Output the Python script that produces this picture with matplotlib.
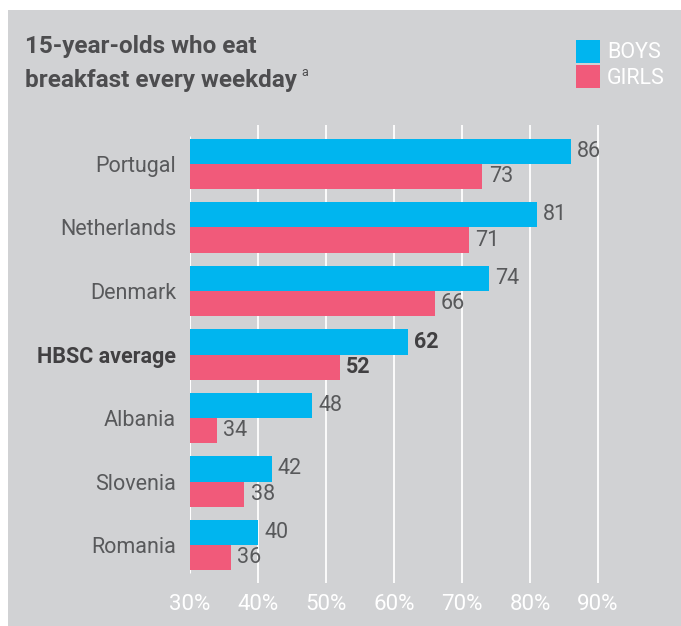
import matplotlib
matplotlib.use("Agg")
import matplotlib.pyplot as plt
from matplotlib import font_manager
from matplotlib.patches import Rectangle

# data
countries = ["Portugal", "Netherlands", "Denmark", "HBSC average", "Albania", "Slovenia", "Romania"]
boys = [86, 81, 74, 62, 48, 42, 40]
girls = [73, 71, 66, 52, 34, 38, 36]
ticks = [30, 40, 50, 60, 70, 80, 90]
tick_labels = ["30%", "40%", "50%", "60%", "70%", "80%", "90%"]
highlight = "HBSC average"

installed = {f.name for f in font_manager.fontManager.ttflist}
font = next(f for f in ["Liberation Sans Narrow", "Roboto", "Open Sans", "DejaVu Sans"] if f in installed)
narrow = font == "Liberation Sans Narrow"
plt.rcParams["font.family"] = [font, "DejaVu Sans"]

BG = "#d1d2d4"
BLUE = "#00b5ef"
PINK = "#f15a7a"
TXT = "#58595b"
DARK = "#414042"

fs = 16.5 if narrow else 15.5

fig = plt.figure(figsize=(6.81, 6.26), dpi=100)
fig.patch.set_facecolor("white")
fig.patches.append(Rectangle((8 / 681, 0), 1, 616 / 626, transform=fig.transFigure,
                             facecolor=BG, edgecolor="none", zorder=-5))

ax = fig.add_axes([190 / 681, 1 - 583 / 626, 476 / 681, 458 / 626])
ax.set_facecolor("none")

y = list(range(len(countries)))
h = 0.4
ax.barh([i - h / 2 for i in y], [b - 30 for b in boys], left=30, height=h, color=BLUE, zorder=2)
ax.barh([i + h / 2 for i in y], [g - 30 for g in girls], left=30, height=h, color=PINK, zorder=2)
ax.vlines(29.8, -0.44, len(countries) - 1 + 0.44, color="white", lw=2.2, zorder=1.5)

for i, (c, b, g) in enumerate(zip(countries, boys, girls)):
    bold = c == highlight
    for v, yy in [(b, i - h / 2), (g, i + h / 2)]:
        ax.annotate(str(v), (v, yy), xytext=(4.5, 0), textcoords="offset points",
                    va="center", ha="left", fontsize=fs,
                    color=DARK if bold else TXT, fontweight="bold" if bold else "normal")

ax.set_xlim(30, 100)
ax.set_ylim(6.598, -0.614)
ax.set_xticks(ticks[1:])
ax.set_xticklabels([])
for t, lab in zip(ticks, tick_labels):
    ax.annotate(lab, (t, 0), xycoords=("data", "axes fraction"), xytext=(0, -15.5),
                textcoords="offset points", ha="center", va="center",
                fontsize=fs + 0.5, color="white", annotation_clip=False)
ax.xaxis.grid(True, color="white", lw=1.3, zorder=1)
ax.set_axisbelow(True)
ax.set_yticks(y)
ax.set_yticklabels(countries, fontsize=fs, color=TXT)
for lab in ax.get_yticklabels():
    if lab.get_text() == highlight:
        lab.set_fontweight("bold")
        lab.set_color(DARK)
ax.tick_params(length=0, pad=10)
for s in ax.spines.values():
    s.set_visible(False)

# title
tfs = 17.5
fig.text(25 / 681, 1 - 47 / 626, "15-year-olds who eat", fontsize=tfs, fontweight="bold",
         color="#4d4d4f", va="center", ha="left")
t2 = fig.text(25 / 681, 1 - 81 / 626, "breakfast every weekday", fontsize=tfs, fontweight="bold",
              color="#4d4d4f", va="center", ha="left")
fig.canvas.draw()
bb = t2.get_window_extent()
fig.text((bb.x1 + 5) / 681, 1 - 73 / 626, "a", fontsize=9, color="#4d4d4f",
         va="center", ha="left")

# legend
fig.patches.append(Rectangle((576 / 681, 1 - 63 / 626), 24 / 681, 23 / 626, transform=fig.transFigure,
                             facecolor=BLUE, edgecolor="none"))
fig.patches.append(Rectangle((576 / 681, 1 - 88 / 626), 24 / 681, 23 / 626, transform=fig.transFigure,
                             facecolor=PINK, edgecolor="none"))
fig.text(607 / 681, 1 - 52 / 626, "BOYS", fontsize=fs, color="white", va="center", ha="left")
fig.text(607 / 681, 1 - 78 / 626, "GIRLS", fontsize=fs, color="white", va="center", ha="left")

fig.savefig("out.png", dpi=100, facecolor="white")
